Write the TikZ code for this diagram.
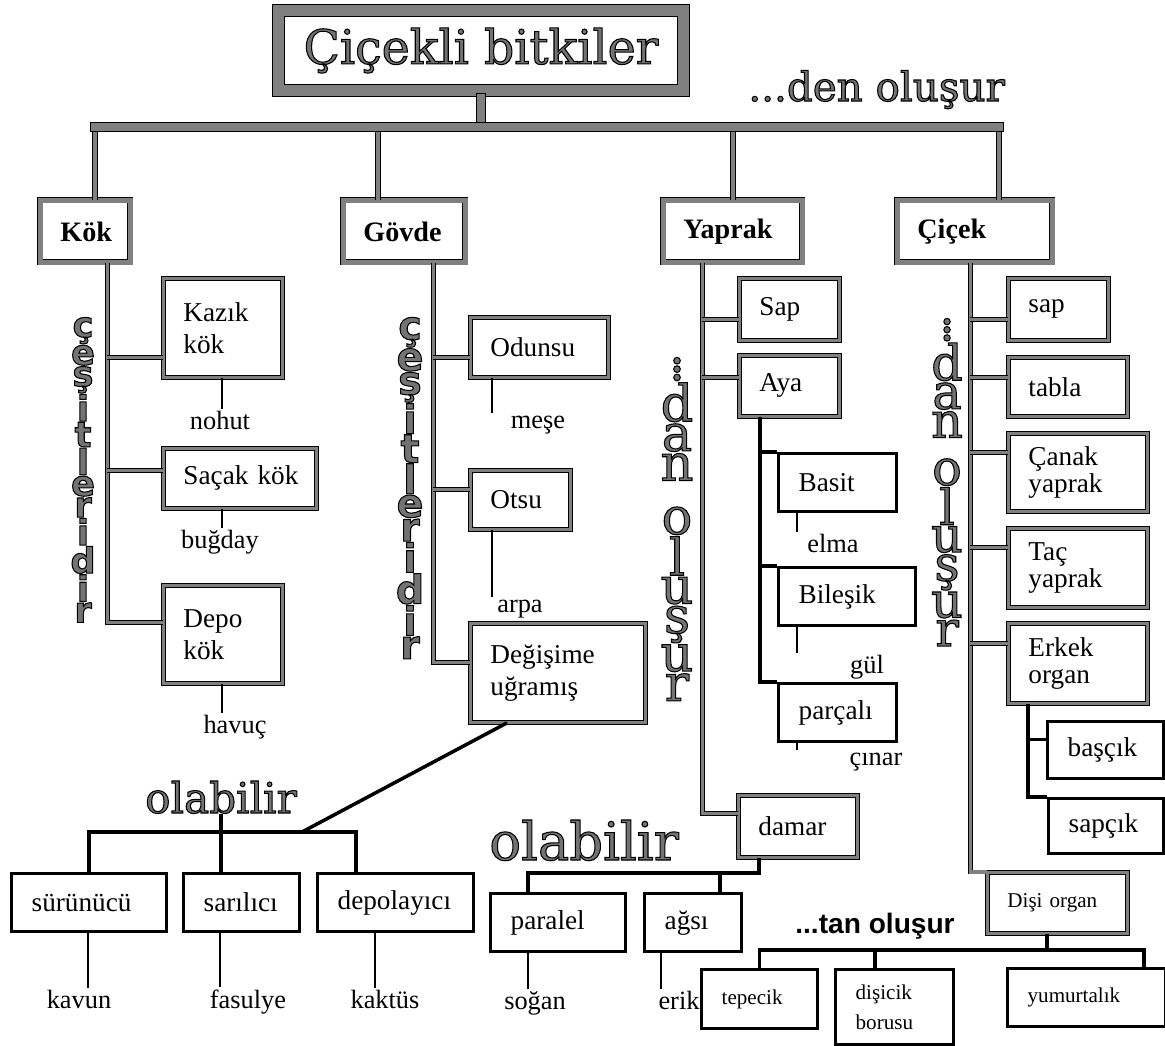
\documentclass[tikz,border=0pt]{standalone}
\usepackage{fontspec}
\setmainfont{Liberation Serif}
\newfontfamily\grayserif{DejaVu Serif}
\newfontfamily\graysans{DejaVu Sans}
\newfontfamily\tanfont{Liberation Sans}
\usepackage{tikz}
\usetikzlibrary{calc}
\colorlet{rimgray}{black!50}
\colorlet{ink}{black!55}
\newcommand{\outlined}[1]{\special{pdf:literal direct 2 Tr 0.6 w 0 G}#1\special{pdf:literal direct 0 Tr}}
\newcommand{\letterstack}[2]{\vbox{\baselineskip=-1000pt\lineskip=#1\lineskiplimit=0pt\halign{\hfil##\hfil\cr#2\crcr}}}
\tikzset{
  lab/.style={font=\fontsize{15}{17}\selectfont, inner sep=1pt},
  leaf/.style={lab, anchor=base},
  box/.style={draw, line width=1.9pt, anchor=north west, inner xsep=0.4cm, inner ysep=0pt,
    align=left, font=\fontsize{15.5}{18}\selectfont},
  dbox/.style={box, line width=0.5pt, double=rimgray, double distance=1.8pt},
  headbox/.style={dbox, double distance=2.4pt, font=\bfseries\fontsize{16}{18}\selectfont},
  smallbox/.style={box, font=\fontsize{12}{14}\selectfont},
  bus/.style={draw, line width=0.6pt, double=rimgray, double distance=4.2pt, line cap=rect},
  drop/.style={draw, line width=0.5pt, double=rimgray, double distance=2.6pt},
  trunk/.style={draw, line width=0.4pt, double=rimgray, double distance=1.8pt},
  heavy/.style={draw, line width=2pt},
  twig/.style={draw, line width=1pt},
  grayword/.style={text=ink, inner sep=0pt, anchor=base west},
  vword/.style={text=ink, inner sep=0pt, anchor=north},
}
\begin{document}
\begin{tikzpicture}[x=0.02cm, y=-0.02cm]
  \fill[white] (0,0) rectangle (1165,1045);
  \useasboundingbox (0,0) rectangle (1165,1045);

  % Title
  \node[dbox, anchor=center, align=center, inner sep=0pt, line width=0.7pt, double distance=6pt,
    minimum width=8.1cm, minimum height=1.6cm, text=ink,
    font=\grayserif\fontsize{27}{30}\selectfont] (plants) at (481,50.5) {\outlined{Çiçekli bitkiler}};
  \node[grayword, font=\grayserif\fontsize{23}{26}\selectfont] (consist) at (748,101) {\outlined{...den oluşur}};

  % Main parts
  \node[headbox, text width=1.0cm, minimum height=1.24cm] (kok) at (40,200) {Kök};
  \node[headbox, text width=1.64cm, minimum height=1.24cm] (govde) at (343,200) {Gövde};
  \node[headbox, text width=1.98cm, minimum height=1.24cm] (yaprak) at (663,200) {Yaprak};
  \node[headbox, text width=2.3cm, minimum height=1.24cm] (cicek) at (897,200) {Çiçek};

  % Root kinds
  \node[dbox, text width=1.58cm, minimum height=1.98cm] (kazik) at (163,278) {Kazık\\kök};
  \node[dbox, text width=2.26cm, minimum height=1.2cm] (sacak) at (163,448) {Saçak~kök};
  \node[dbox, text width=1.58cm, minimum height=1.96cm] (depo) at (163,585) {Depo\\kök};

  % Stem kinds
  \node[dbox, text width=1.96cm, minimum height=1.2cm] (odunsu) at (470,317) {Odunsu};
  \node[dbox, text width=1.2cm, minimum height=1.18cm] (otsu) at (470,470) {Otsu};
  \node[dbox, text width=2.7cm, minimum height=1.98cm] (degisim) at (470,623) {Değişime\\uğramış};

  % Leaf parts
  \node[dbox, text width=1.2cm, minimum height=1.24cm] (sapy) at (739,278) {Sap};
  \node[dbox, text width=1.2cm, minimum height=1.22cm] (aya) at (739,355) {Aya};
  \node[box, text width=1.56cm, minimum height=1.16cm] (basit) at (777,452) {Basit};
  \node[box, text width=1.94cm, minimum height=1.16cm] (bilesik) at (777,566) {Bileşik};
  \node[box, text width=1.56cm, minimum height=1.16cm] (parcali) at (777,682) {parçalı};
  \node[dbox, text width=1.58cm, minimum height=1.24cm] (damar) at (738,795) {damar};

  % Flower parts
  \node[dbox, text width=1.2cm, minimum height=1.24cm] (sapc) at (1008,278) {sap};
  \node[dbox, text width=1.58cm, minimum height=1.18cm] (tabla) at (1008,357) {tabla};
  \node[dbox, text width=1.98cm, minimum height=1.56cm, font=\fontsize{15.5}{15}\selectfont] (canak) at (1008,433) {Çanak\\yaprak};
  \node[dbox, text width=1.98cm, minimum height=1.58cm, font=\fontsize{15.5}{15}\selectfont] (tac) at (1008,528) {Taç\\yaprak};
  \node[dbox, text width=1.98cm, minimum height=1.6cm, font=\fontsize{15.5}{15}\selectfont] (erkek) at (1008,623) {Erkek\\organ};
  \node[box, text width=1.52cm, minimum height=1.14cm] (bascik) at (1046,720) {başçık};
  \node[box, text width=1.5cm, minimum height=1.1cm] (sapcik) at (1047,797) {sapçık};
  \node[dbox, text width=2.0cm, minimum height=1.22cm, font=\fontsize{12}{14}\selectfont] (disi) at (987,872) {Dişi organ};

  % Bottom rows
  \node[box, text width=2.3cm, minimum height=1.16cm] (surunucu) at (10,872) {sürünücü};
  \node[box, text width=1.52cm, minimum height=1.16cm] (sarilici) at (182,872) {sarılıcı};
  \node[box, text width=2.32cm, minimum height=1.16cm] (depolayici) at (316,872) {depolayıcı};
  \node[box, text width=1.9cm, minimum height=1.16cm] (paralel) at (489,892) {paralel};
  \node[box, text width=1.14cm, minimum height=1.16cm] (agsi) at (643,892) {ağsı};
  \node[smallbox, text width=1.52cm, minimum height=1.18cm] (tepecik) at (700,968) {tepecik};
  \node[smallbox, text width=1.56cm, minimum height=1.5cm, font=\fontsize{12}{17}\selectfont] (disicik) at (834,968) {dişicik\\borusu};
  \node[smallbox, text width=2.36cm, minimum height=1.16cm] (yumurta) at (1006,967) {yumurtalık};

  % Examples
  \node[leaf] (nohut) at (220,429) {nohut};
  \node[leaf] (bugday) at (220,548) {buğday};
  \node[leaf] (havuc) at (235,733) {havuç};
  \node[leaf] (mese) at (538,428) {meşe};
  \node[leaf] (arpa) at (520,612) {arpa};
  \node[leaf] (elma) at (833,552) {elma};
  \node[leaf] (gul) at (867,673) {gül};
  \node[leaf] (cinar) at (876,765) {çınar};
  \node[leaf] (kavun) at (79,1008) {kavun};
  \node[leaf] (fasulye) at (248,1008) {fasulye};
  \node[leaf] (kaktus) at (385,1008) {kaktüs};
  \node[leaf] (sogan) at (535,1009) {soğan};
  \node[leaf] (erik) at (679,1009) {erik};

  % Gray words
  \node[vword, font=\graysans\bfseries\fontsize{20}{20}\selectfont] (kinds1) at (83,317)
    {\outlined{\letterstack{0.7pt}{ç\cr e\cr ş\cr i\cr t\cr l\cr e\cr r\cr i\cr d\cr i\cr r}}};
  \node[vword, font=\graysans\bfseries\fontsize{22.5}{22.5}\selectfont] (kinds2) at (410,317)
    {\outlined{\letterstack{0.7pt}{ç\cr e\cr ş\cr i\cr t\cr l\cr e\cr r\cr i\cr d\cr i\cr r}}};
  \node[vword, font=\grayserif\fontsize{29}{29}\selectfont] (made1) at (677,357)
    {\outlined{\letterstack{1pt}{.\cr.\cr.\cr d\cr a\cr n\cr\noalign{\vskip 14pt}o\cr l\cr u\cr ş\cr u\cr r}}};
  \node[vword, font=\grayserif\fontsize{28}{28}\selectfont] (made2) at (947,318)
    {\outlined{\letterstack{1pt}{.\cr.\cr.\cr d\cr a\cr n\cr\noalign{\vskip 11pt}o\cr l\cr u\cr ş\cr u\cr r}}};
  \node[grayword, anchor=base, font=\grayserif\fontsize{24}{26}\selectfont] (olab1) at (221,813) {\outlined{olabilir}};
  \node[grayword, font=\grayserif\fontsize{30}{32}\selectfont] (olab2) at (489,860) {\outlined{olabilir}};
  \node[anchor=base west, inner sep=0pt, font=\tanfont\bfseries\fontsize{16}{18}\selectfont] (forms) at (795,933) {...tan oluşur};

  % Top bus
  \coordinate (bus-l) at (95,127);
  \coordinate (bus-g) at (378,127);
  \coordinate (bus-y) at (733,127);
  \coordinate (bus-r) at (999,127);
  \foreach \c/\n in {bus-l/kok, bus-g/govde, bus-y/yaprak, bus-r/cicek}
    \draw[drop] (\c) -- (\c |- \n.north);
  \draw[bus] ($(plants.south)+(0,6.5)$) -- (plants.south |- bus-l);
  \draw[bus] (bus-l) -- (bus-r);

  % Kök column
  \coordinate (kk) at ($(kok.south)+(22,0)$);
  \draw[trunk] (kk) |- ($(depo.west)+(0,-12)$);
  \foreach \b/\dy in {kazik/29.5, sacak/-8}
    \draw[trunk] ($(\b.west)+(0,\dy)$) coordinate (p) -- (p -| kk);

  % Gövde column
  \coordinate (gg) at ($(govde.south)+(29,0)$);
  \draw[trunk] (gg) |- ($(degisim.west)+(0,-10.5)$);
  \foreach \b/\dy in {odunsu/10, otsu/-10.5}
    \draw[trunk] ($(\b.west)+(0,\dy)$) coordinate (p) -- (p -| gg);

  % Yaprak column
  \coordinate (yy) at ($(yaprak.south)+(-30.5,0)$);
  \draw[trunk] (yy) |- ($(damar.west)+(0,-13)$);
  \foreach \b/\dy in {sapy/10, aya/-8.5}
    \draw[trunk] ($(\b.west)+(0,\dy)$) coordinate (p) -- (p -| yy);
  \coordinate (aa) at ($(aya.south west)+(21,0)$);
  \draw[heavy] (aa) |- (parcali.north west);
  \foreach \b in {basit, bilesik}
    \draw[heavy] (\b.north west) -- (\b.north west -| aa);

  % Çiçek column
  \coordinate (cc) at ($(cicek.south)+(-4.5,0)$);
  \draw[trunk] (cc) |- (disi.north west);
  \foreach \b/\dy in {sapc/10, tabla/-9.5, canak/-20, tac/-20.5, erkek/-20}
    \draw[trunk] ($(\b.west)+(0,\dy)$) coordinate (p) -- (p -| cc);
  \coordinate (ee) at ($(erkek.south west)+(20,0)$);
  \draw[heavy] (ee) |- (sapcik.north west);
  \draw[heavy] ($(bascik.west)+(0,-10.5)$) coordinate (p) -- (p -| ee);

  % olabilir (stem)
  \coordinate (olab1-bus) at (221,832);
  \draw[heavy] (surunucu.north) |- (olab1-bus) -| ($(depolayici.north west)+(40,0)$);
  \draw[heavy] (olab1.south) -- (olab1.south |- sarilici.north);
  \draw[heavy] ($(degisim.south west)+(37,0)$) -- ($(olab1-bus)+(81,0)$);

  % olabilir (veins)
  \coordinate (olab2-bus) at (528,873);
  \draw[heavy] ($(damar.south west)+(21,0)$) |- (olab2-bus) -- (olab2-bus |- paralel.north);
  \draw[heavy] ($(agsi.north west)+(77,0)$) coordinate (p) -- (p |- olab2-bus);

  % ...tan oluşur
  \coordinate (tan-bus) at (1144,950);
  \draw[heavy] (tepecik.north) |- (tan-bus) -- (tan-bus |- yumurta.north);
  \draw[heavy] ($(disi.south west)+(60,0)$) coordinate (p) -- (p |- tan-bus);
  \draw[heavy] ($(disicik.north west)+(41,0)$) coordinate (p) -- (p |- tan-bus);

  % Example twigs
  \foreach \b/\dx/\w in {kazik/59/nohut, sacak/59/bugday, depo/59/havuc, odunsu/22/mese,
      otsu/22/arpa, basit/20/elma, bilesik/20/gul, parcali/20/cinar, surunucu/78/kavun,
      sarilici/38/fasulye, depolayici/59/kaktus, paralel/39/sogan, agsi/18/erik}
    \draw[twig] ($(\b.south west)+(\dx,0)$) coordinate (t) -- (t |- \w.north);
\end{tikzpicture}
\end{document}
